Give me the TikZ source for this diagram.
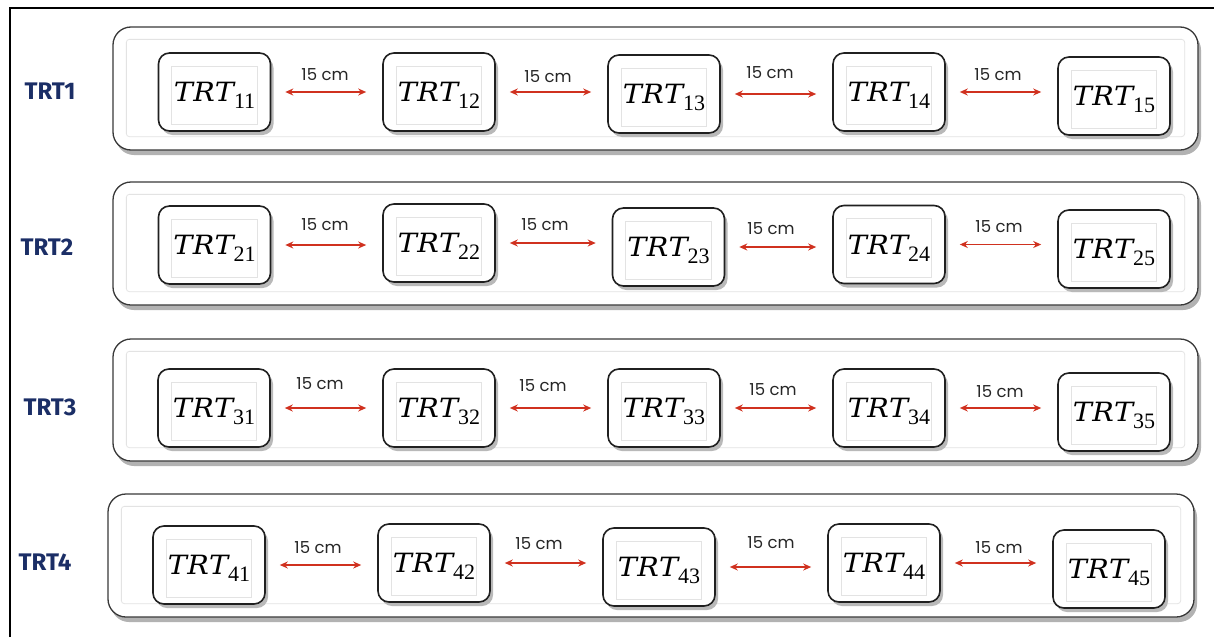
\documentclass[tikz,border=0pt]{standalone}
\usepackage{fontspec}
\newfontfamily\cmfont{Poppins}
\newfontfamily\labfont{Fira Sans}
\newfontfamily\trtit{DejaVu Serif}[FakeStretch=1.08, LetterSpace=2]
\newfontfamily\trtsub{Liberation Serif}
\newcommand\trt[1]{{\trtit\itshape\fontsize{26.5}{28}\selectfont TRT}\smash{\raisebox{-7pt}{\trtsub\fontsize{22}{24}\selectfont #1}}}
\usetikzlibrary{shadows,arrows.meta}
\definecolor{navy}{HTML}{1B2E66}
\definecolor{arrred}{HTML}{D0311F}
\tikzset{
  outerbox/.style={draw=gray!45!black, line width=1.3pt, fill=white, rounded corners=18pt,
    inner sep=0pt, drop shadow={shadow xshift=3pt, shadow yshift=-5pt, fill=gray!60, opacity=1}},
  trtbox/.style={draw=gray!25!black, line width=1.6pt, fill=white, rounded corners=11pt,
    minimum width=112pt, minimum height=78pt, inner sep=0pt,
    drop shadow={shadow xshift=3pt, shadow yshift=-4pt, fill=gray!55, opacity=1}},
  innerframe/.style={draw=gray!22, line width=0.8pt},
  arr/.style={draw=arrred, line width=1.5pt, {Stealth[length=8pt,width=7pt]}-{Stealth[length=8pt,width=7pt]},
    shorten <=14pt, shorten >=16pt},
  cmlab/.style={font=\cmfont\fontsize{16.5}{18}\selectfont, text=black!85, inner sep=0pt},
  rowlab/.style={font=\labfont\bfseries\fontsize{24}{26}\selectfont, text=navy, inner sep=0pt}
}
\begin{document}
\begin{tikzpicture}[x=1pt,y=-1pt]
\useasboundingbox (0,0) rectangle (1214,637);
\fill[white] (0,0) rectangle (1214,637);
% frame lines
\draw[line width=2pt, black] (10,637) -- (10,8) -- (1214,8);

% outer rows
\node[outerbox, minimum width=1085pt, minimum height=123pt] (r1) at (655.5,88.5) {};
\node[outerbox, minimum width=1085pt, minimum height=123pt] (r2) at (655.5,243.5) {};
\node[outerbox, minimum width=1085pt, minimum height=122pt] (r3) at (655.5,400) {};
\node[outerbox, minimum width=1086pt, minimum height=123pt] (r4) at (651,555.5) {};
\foreach \r in {r1,r2,r3,r4}{
  \draw[innerframe, rounded corners=3pt] ([shift={(14pt,-13pt)}]\r.north west) rectangle ([shift={(-14pt,14pt)}]\r.south east);
}

% row labels
\node[rowlab] (l1) at (50,91) {TRT1};
\node[rowlab] (l2) at (47,247) {TRT2};
\node[rowlab] (l3) at (50,407) {TRT3};
\node[rowlab] (l4) at (45,562) {TRT4};

% TRT boxes
\node[trtbox] (b11) at (214.5,92) {\trt{11}};
\node[trtbox] (b12) at (439,92) {\trt{12}};
\node[trtbox] (b13) at (664,94) {\trt{13}};
\node[trtbox] (b14) at (889,92) {\trt{14}};
\node[trtbox] (b15) at (1114,96) {\trt{15}};

\node[trtbox] (b21) at (214.5,245) {\trt{21}};
\node[trtbox] (b22) at (439,243) {\trt{22}};
\node[trtbox] (b23) at (668.5,247) {\trt{23}};
\node[trtbox] (b24) at (889,244.5) {\trt{24}};
\node[trtbox] (b25) at (1114,249) {\trt{25}};

\node[trtbox] (b31) at (214,408) {\trt{31}};
\node[trtbox] (b32) at (439,408) {\trt{32}};
\node[trtbox] (b33) at (664,408) {\trt{33}};
\node[trtbox] (b34) at (889,408) {\trt{34}};
\node[trtbox] (b35) at (1114,412) {\trt{35}};

\node[trtbox] (b41) at (209,565) {\trt{41}};
\node[trtbox] (b42) at (434,563) {\trt{42}};
\node[trtbox] (b43) at (659,567) {\trt{43}};
\node[trtbox] (b44) at (884,563) {\trt{44}};
\node[trtbox] (b45) at (1109,569) {\trt{45}};

\foreach \b in {b11,b12,b13,b14,b15,b21,b22,b23,b24,b25,b31,b32,b33,b34,b35,b41,b42,b43,b44,b45}{
  \draw[innerframe] ([shift={(14pt,-14pt)}]\b.north west) rectangle ([shift={(-14pt,7pt)}]\b.south east);
}

% arrows
\foreach \r in {1,2,3,4}{
  \foreach \a/\c in {1/2,2/3,3/4,4/5}{
    \draw[arr] (b\r\a.east) -- (b\r\a.east -| b\r\c.west);
  }
}

% distance labels
\node[cmlab] (d11) at (325,75) {15 cm};
\node[cmlab] (d12) at (548,77) {15 cm};
\node[cmlab] (d13) at (770,73) {15 cm};
\node[cmlab] (d14) at (998,75) {15 cm};
\node[cmlab] (d21) at (325,225) {15 cm};
\node[cmlab] (d22) at (545,225) {15 cm};
\node[cmlab] (d23) at (771,229) {15 cm};
\node[cmlab] (d24) at (999,227) {15 cm};
\node[cmlab] (d31) at (320,384) {15 cm};
\node[cmlab] (d32) at (543,386) {15 cm};
\node[cmlab] (d33) at (773,390) {15 cm};
\node[cmlab] (d34) at (1000,392) {15 cm};
\node[cmlab] (d41) at (318,548) {15 cm};
\node[cmlab] (d42) at (539,544) {15 cm};
\node[cmlab] (d43) at (771,543) {15 cm};
\node[cmlab] (d44) at (999,548) {15 cm};
\end{tikzpicture}
\end{document}
